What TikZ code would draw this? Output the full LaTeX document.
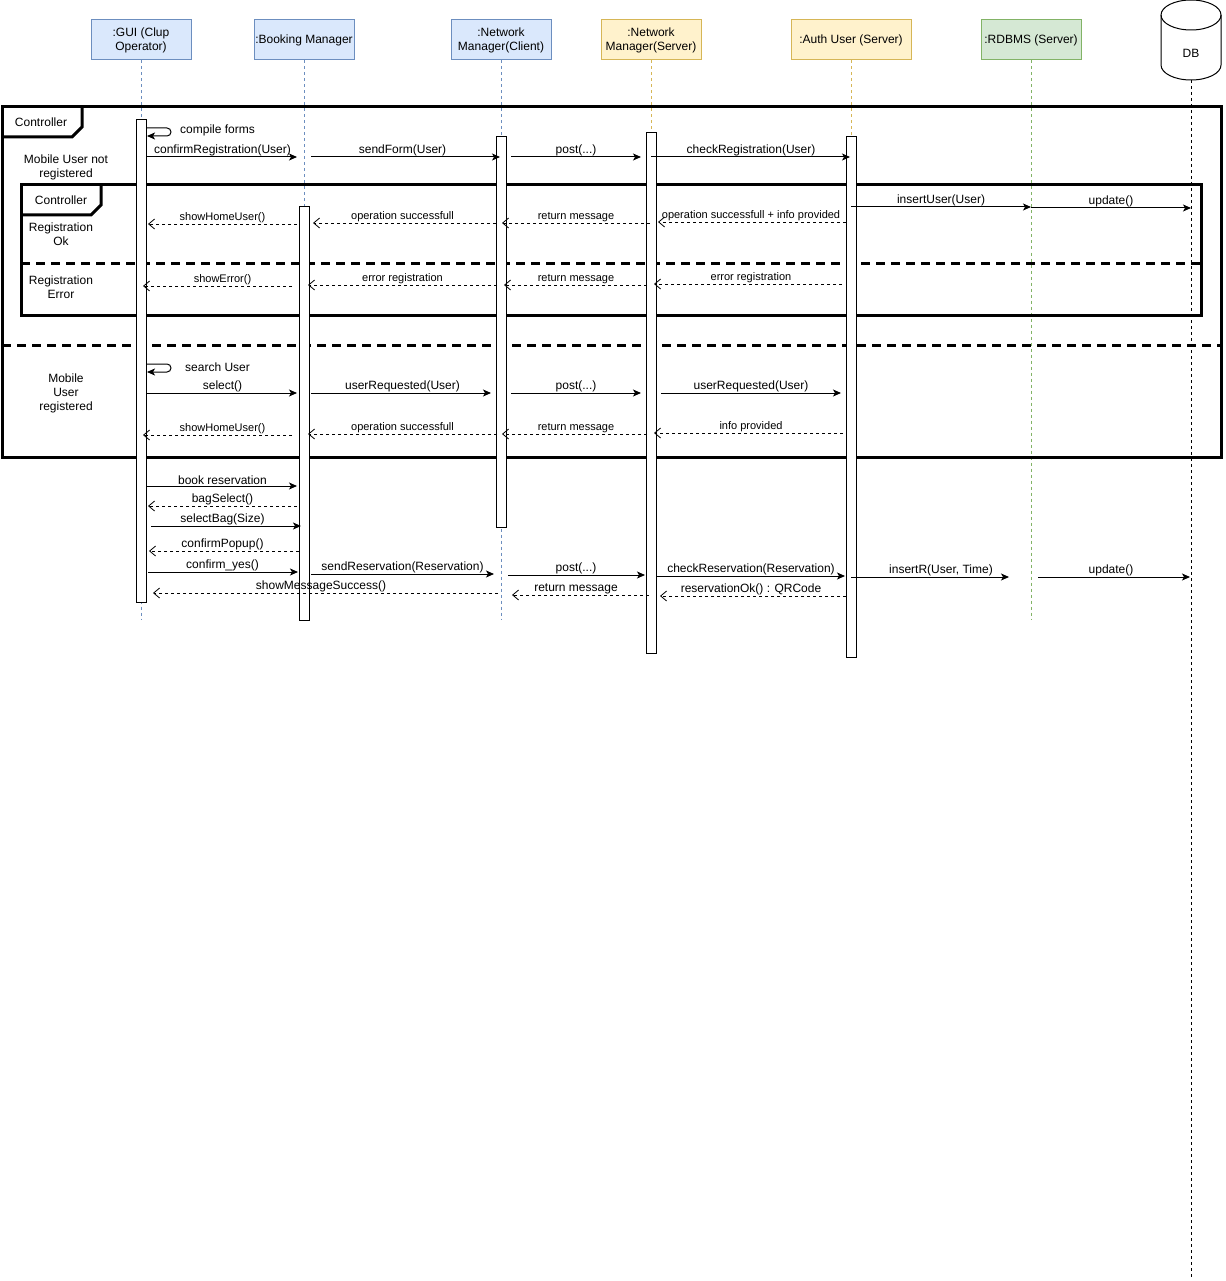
\documentclass[tikz,border=0pt]{standalone}
\usepackage{fontspec}
\setmainfont{Liberation Sans}
\usepackage{xcolor}
\usepackage{tikz}
\usetikzlibrary{arrows.meta, positioning, calc}

\definecolor{bluefill}{HTML}{DAE8FC}
\definecolor{blueline}{HTML}{6C8EBF}
\definecolor{yellowfill}{HTML}{FFF2CC}
\definecolor{yellowline}{HTML}{D6B656}
\definecolor{greenfill}{HTML}{D5E8D4}
\definecolor{greenline}{HTML}{82B366}

\begin{document}
\begin{tikzpicture}[x=1pt, y=-1pt,
    party/.style={draw, line width=1pt, minimum width=100pt, minimum height=40pt, inner sep=1pt, align=center, font=\fontsize{12}{14}\selectfont},
    lifeline/.style={line width=0.8pt, dash pattern=on 3pt off 3pt},
    act/.style={draw, fill=white, line width=1pt},
    fragment/.style={line width=3pt},
    fragsep/.style={line width=3pt, dash pattern=on 9pt off 6pt},
    msg/.style={line width=1pt, -{Stealth[length=8pt, width=7pt, inset=2pt]}},
    ret/.style={line width=0.8pt, dash pattern=on 3pt off 3pt, -{Straight Barb[length=6pt, width=10pt]}},
    gap/.style 2 args={shorten <=#1pt, shorten >=#2pt},
    lbl/.style={above, inner sep=1pt, font=\fontsize{12}{14}\selectfont},
    lblsmall/.style={above, inner sep=1pt, font=\fontsize{11}{13}\selectfont},
    txt/.style={align=center, inner sep=1pt, font=\fontsize{12}{14}\selectfont}]
    \useasboundingbox (0,0) rectangle (1225,1281);

    % Participants
    \node[party, fill=bluefill, draw=blueline] (gui) at (141,40) {:GUI (Clup\\Operator)};
    \node[party, fill=bluefill, draw=blueline] (bm) at (304,40) {:Booking Manager};
    \node[party, fill=bluefill, draw=blueline] (ncl) at (501,40) {:Network\\Manager(Client)};
    \node[party, fill=yellowfill, draw=yellowline] (nsv) at (651,40) {:Network\\Manager(Server)};
    \node[party, fill=yellowfill, draw=yellowline, minimum width=120pt] (auth) at (851,40) {:Auth User (Server)};
    \node[party, fill=greenfill, draw=greenline] (rdb) at (1031,40) {:RDBMS (Server)};

    % Database
    \draw[line width=1pt, fill=white] (1161,15) -- (1161,65) arc[start angle=180, end angle=0, x radius=30, y radius=15] -- (1221,15);
    \draw[line width=1pt] (1191,15) ellipse [x radius=30, y radius=15];
    \node[txt] (db) at (1191,53) {DB};

    % Lifelines
    \draw[lifeline, blueline] (gui.south) -- (gui |- 0,620);
    \draw[lifeline, blueline] (bm.south) -- (bm |- 0,620);
    \draw[lifeline, blueline] (ncl.south) -- (ncl |- 0,620);
    \draw[lifeline, yellowline] (nsv.south) -- (nsv |- 0,620);
    \draw[lifeline, yellowline] (auth.south) -- (auth |- 0,620);
    \draw[lifeline, greenline] (rdb.south) -- (rdb |- 0,620);
    \draw[lifeline, black] (db |- 0,80) -- (db |- 0,1279);

    % Outer fragment
    \draw[fragment] (2,107) rectangle (1221,457);
    \draw[fragment] (2,137) -- (72,137) -- (82,127) -- (82,107);
    \draw[fragsep] (2,345) -- (1221,345);
    \node[txt] (c1) at (41,122) {Controller};
    \node[txt] (t1) at (66,167) {Mobile User not\\registered};
    \node[txt] (t4) at (66,393) {Mobile\\User\\registered};

    % Inner fragment
    \draw[fragment] (21,185) rectangle (1201,315);
    \draw[fragment] (21,215) -- (91,215) -- (101,205) -- (101,185);
    \draw[fragsep] (21,263) -- (1201,263);
    \node[txt] (c2) at (61,200) {Controller};
    \node[txt] (t2) at (61,234) {Registration\\Ok};
    \node[txt] (t3) at (61,287) {Registration\\Error};

    % Activations
    \draw[act] (136,120) rectangle (146,602);
    \draw[act] (299,207) rectangle (309,620);
    \draw[act] (496,137) rectangle (506,527);
    \draw[act] (646,133) rectangle (656,653);
    \draw[act] (846,137) rectangle (856,657);

    % Registration of a new user
    \draw[msg, rounded corners=4pt, gap={5}{6}] (gui |- 0,128) -- ++(30,0) -- ++(0,8) -- (gui |- 0,136);
    \node[txt, anchor=west] (s1) at (179,130) {compile forms};
    \draw[msg, gap={5}{7}] (gui |- 0,157) -- node[lbl] (m1) {confirmRegistration(User)} (bm |- 0,157);
    \draw[msg, gap={7}{1}] (bm |- 0,157) -- node[lbl] (m2) {sendForm(User)} (ncl |- 0,157);
    \draw[msg, gap={10}{10}] (ncl |- 0,157) -- node[lbl] (m3) {post(...)} (nsv |- 0,157);
    \draw[msg, gap={0}{1}] (nsv |- 0,157) -- node[lbl] (m4) {checkRegistration(User)} (auth |- 0,157);
    \draw[msg, gap={0}{0}] (auth |- 0,207) -- node[lbl] (m5) {insertUser(User)} (rdb |- 0,207);
    \draw[msg, gap={0}{0}] (rdb |- 0,208) -- node[lbl] (m6) {update()} (db |- 0,208);

    % Registration ok
    \draw[ret, gap={5}{7}] (auth |- 0,222) -- node[lblsmall] (r1) {operation successfull + info provided} (nsv |- 0,222);
    \draw[ret, gap={1}{1}] (nsv |- 0,223) -- node[lblsmall] (r2) {return message} (ncl |- 0,223);
    \draw[ret, gap={5}{9}] (ncl |- 0,223) -- node[lblsmall] (r3) {operation successfull} (bm |- 0,223);
    \draw[ret, gap={7}{7}] (bm |- 0,224) -- node[lblsmall] (r4) {showHomeUser()} (gui |- 0,224);

    % Registration error
    \draw[ret, gap={9}{3}] (auth |- 0,284) -- node[lblsmall] (e1) {error registration} (nsv |- 0,284);
    \draw[ret, gap={4}{3}] (nsv |- 0,285) -- node[lblsmall] (e2) {return message} (ncl |- 0,285);
    \draw[ret, gap={4}{4}] (ncl |- 0,285) -- node[lblsmall] (e3) {error registration} (bm |- 0,285);
    \draw[ret, gap={12}{2}] (bm |- 0,286) -- node[lblsmall] (e4) {showError()} (gui |- 0,286);

    % Registered user
    \draw[msg, rounded corners=4pt, gap={5}{6}] (gui |- 0,364) -- ++(30,0) -- ++(0,8) -- (gui |- 0,372);
    \node[txt, anchor=west] (s2) at (184,367) {search User};
    \draw[msg, gap={5}{7}] (gui |- 0,393) -- node[lbl] (u1) {select()} (bm |- 0,393);
    \draw[msg, gap={7}{10}] (bm |- 0,393) -- node[lbl] (u2) {userRequested(User)} (ncl |- 0,393);
    \draw[msg, gap={10}{10}] (ncl |- 0,393) -- node[lbl] (u3) {post(...)} (nsv |- 0,393);
    \draw[msg, gap={10}{10}] (nsv |- 0,393) -- node[lbl] (u4) {userRequested(User)} (auth |- 0,393);
    \draw[ret, gap={8}{3}] (auth |- 0,433) -- node[lblsmall] (u5) {info provided} (nsv |- 0,433);
    \draw[ret, gap={4}{1}] (nsv |- 0,434) -- node[lblsmall] (u6) {return message} (ncl |- 0,434);
    \draw[ret, gap={4}{4}] (ncl |- 0,434) -- node[lblsmall] (u7) {operation successfull} (bm |- 0,434);
    \draw[ret, gap={12}{2}] (bm |- 0,435) -- node[lblsmall] (u8) {showHomeUser()} (gui |- 0,435);

    % Reservation
    \draw[msg, gap={5}{7}] (gui |- 0,486) -- node[lbl] (b1) {book reservation} (bm |- 0,486);
    \draw[ret, gap={7}{7}] (bm |- 0,506) -- node[lbl] (b2) {bagSelect()} (gui |- 0,506);
    \draw[msg, gap={10}{3}] (gui |- 0,526) -- node[lbl] (b3) {selectBag(Size)} (bm |- 0,526);
    \draw[ret, gap={5}{8}] (bm |- 0,551) -- node[lbl] (b4) {confirmPopup()} (gui |- 0,551);
    \draw[msg, gap={7}{6}] (gui |- 0,572) -- node[lbl] (b5) {confirm\_yes()} (bm |- 0,572);
    \draw[msg, gap={7}{7}] (bm |- 0,574) -- node[lbl] (b6) {sendReservation(Reservation)} (ncl |- 0,574);
    \draw[msg, gap={7}{6}] (ncl |- 0,575) -- node[lbl] (b7) {post(...)} (nsv |- 0,575);
    \draw[msg, gap={5}{6}] (nsv |- 0,576) -- node[lbl] (b8) {checkReservation(Reservation)} (auth |- 0,576);
    \draw[msg, gap={0}{22}] (auth |- 0,577) -- node[lbl] (b9) {insertR(User, Time)} (rdb |- 0,577);
    \draw[msg, gap={7}{1}] (rdb |- 0,577) -- node[lbl] (b10) {update()} (db |- 0,577);
    \draw[ret, gap={5}{9}] (auth |- 0,596) -- node[lbl] (b11) {reservationOk() : QRCode} (nsv |- 0,596);
    \draw[ret, gap={2}{11}] (nsv |- 0,595) -- node[lbl] (b12) {return message} (ncl |- 0,595);
    \draw[ret, gap={3}{12}] (ncl |- 0,593) -- node[lbl] (b13) {showMessageSuccess()} (gui |- 0,593);
\end{tikzpicture}
\end{document}
